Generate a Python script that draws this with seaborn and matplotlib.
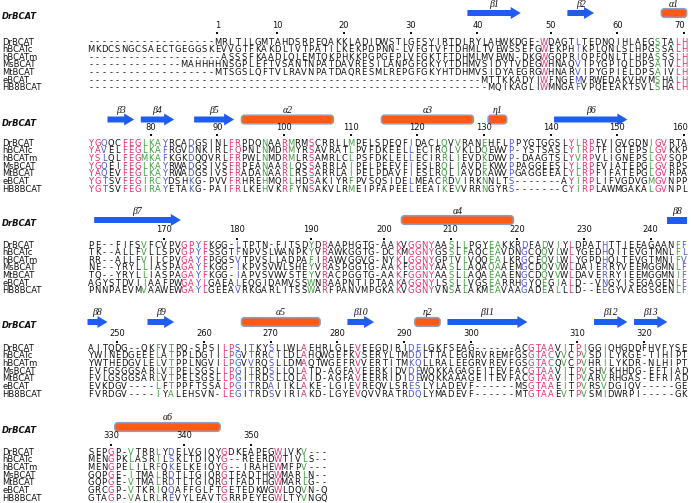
import matplotlib
matplotlib.use("Agg")
import matplotlib.pyplot as plt
from matplotlib.patches import FancyArrow, FancyBboxPatch, Rectangle
import seaborn as sns
import pandas as pd

sns.set_theme(style="white")
plt.rcParams['font.family'] = ['DejaVu Sans']

# Имена последовательностей
names = ["DrBCAT", "hBCATc", "hBCATm", "MsBCAT", "MtBCAT", "eBCAT", "HB8BCAT"]

# Выравнивание, блок за блоком
block1 = [
    "-------------------MRLTILGMTAHDSRPEQAKKLADIDWSTLGFSYIRTDLRYLAHWKDGE-WDAGTLTEDNQIHLAEGSTALH",
    "MKDCSNGCSAECTGEGGSKEVVGTFKAKDLIVTPATILKEKPDPNN-LVFGTVFTDHMLTVEWSSEFGWEKPHIKPLQNLSLHPGSSALH",
    "--------------------ASSSFKAADLQLEMTQKPHKKPGPGEPLVFGKTFTDHMLMVEWN-DKGWGQPRIQPFQNLTLHPASSSLH",
    "--------------MAHHHHNSGPLEFTVSANTNPATDAVRESILANPGFGKYYTDHMVSIDYTVDEGWHNAQVIPYGPIQLDPSAIVLH",
    "-------------------MTSGSLQFTVLRAVNPATDAQRESMLREPGFGKYHTDHMVSIDYAEGRGWHNARVIPYGPIELDPSAIVLH",
    "-----------------------------------------------------------MTTKKADYIWFNGEMVRWEDAKVHVMSHALH",
    "------------------------------------------------------------MQIKAGLIWMNGAFVPQEEAKTSVLSHALH",
]
block2 = [
    "YGQQCFEGLKAYRCADGSINLFRPDQNAARMRMSCRRLLMPELSDEQFIDACLQVVRANEHFLPPYGTGGSLYLRPFVIGVGDNIGVRTA",
    "YAVELFEGLKAFRGVDNKIRLFQPNLNMDRMYRSAVRATLPVFDKEELLECIRQLVKLDQEWVP-YSTSASLYIRPTFIGTEPSLGVKKP",
    "YSLQLFEGMKAFKGKDQQVRLFRPWLNMDRMLRSAMRLCLPSFDKLELLECIRRLIEVDKDWVP-DAAGTSLYVRPVLIGNEPSLGVSQP",
    "YGQEIFEGLKAYRWADGSIVSFRPEANAARLQSSARRLAIPELPEEVFIESLRQLIAVDEKWVPPAGGEESLYLRPFVIATEPGLGVRPS",
    "YAQEVFEGLKAYRWADGSIVSFRADANAARLRSSARRLAIPELPDAVFIESLRQLIAVDKAWVPGAGGEEALYLRPFIFATEPGLGVRPA",
    "YGTSVFEGIRCYDSHKG-PVVFRHREHMQRLHDSAKIYRFPVSQSIDELMEACRDVIRKNNLTS-------AYIRPLIFVGDVGMGVNPP",
    "YGTSVFEGIRAYETAKG-PAIFRLKEHVKRFYNSAKVLRMEIPFAPEELEEAIKEVVRRNGYRS-------CYIRPLAWMGAKALGVNPL",
]
block3 = [
    "PE--FIFSVFCVPVGPYFKGG-LTPTN-FITSDYDRAAPHGTG-AAKVGGNYAASLLPGYEAKKRDFADVIYLDPATHTTIEEAGAANFF",
    "TK--ALLFVLLSPVGPYFSSGTFNPVSLWANPKYVRAWKGGTG-DCKMGGNYGSSLFAQCEAVDNGCQQVLWLYGEDHQITEVGTMNLFL",
    "RR--ALLFVILCPVGAYFPGGSVTPVSLLADPAFIRAWVGGVG-NYKLGGNYGPTVLVQQEALKRGCEQVLWLYGPDHQLTEVGTMNIFV",
    "NE--YRYLLIASPAGAYFKGG-IKPVSVWLSHEYVRASPGGTG-AAKFGGNYAASLLAQAQAAEMGCDQVVWLDAIERRYVEEMGGMNLF",
    "TQ--YRYLLIASPAGAYFKGG-IAPVSVWVSTEYVRACPGGTG-AAKFGGNYAASLLAQAEAAENGCDQVVWLDAVERRYIEEMGGMNIF",
    "AGYSTDVIIAAFPWGAYLGAEALEQGIDAMVSSWNRAAPNTIPTAAKAGGNYLSSLLVGSEARRHGYQEGIALD--VNGYISEGAGENLF",
    "PNNPAEVMVAAWEWGAYLGEEAVRKGARLITSSWARFPANVMPGKAKVGGNYVNSALAKMEAVAAGADEALLLD--EEGYVAEGSGENLF",
]
block4 = [
    "AITQDG--QKFVTPQ-SPSILPSITKYSLLWLAEHRLGLEVEEGDIRIDELGKFSEAG------ACGTAAVITPIGGIQHGDDFHVFYSE",
    "YWINEDGEEELATPPLDGIILPGVTRRCILDLAHQWGEFKVSERYLTMDDLTTALEGNRVREMFGSGTACVVCPVSDILYKGE-TIHIPT",
    "YWTHEDGVLELVTPPLNGVILPGVVRQSLLDMAQTWGEFRVVERTITMKQLLRALEEGRVREVFGSGTACQVCPVHRILYKDR-NLHIPT",
    "FVFGSGGSARLVTPELSGSLLPGITRDSLLQLATD-AGFAVEERKIDVDEWQKKAGAGEITEVFACGTAAVITPVSHVKHHDG-EFTIAD",
    "FVLGSGGSARLVTPELSGSLLPGITRDSLLQLAID-AGFAVEERRIDIDEWQKKAAAGEITEVFACGTAAVITPVARVRHGAS-EFRIAD",
    "EVKDGV----LFTPPFTSSALPGITRDAIIKLAKE-LGIEVREQVLSRESLYLADEVF------MSGTAAEITPVRSVDGIQV-----GE",
    "FVRDGV----IYALEHSVN-LEGITRDSVIRIAKD-LGYEVQVVRATRDQLYMADEVF------MTGTAAEVTPVSMIDWRPI-----GK",
]
block5 = [
    "SEPGP-VTRRLYDELVGIQYGDKEAPEGWIVKV---",
    "MENGPKLASRILSKLTDIQYG--REERDWTIVLS--",
    "MENGPELILRFQKELKEIQYG--IRAHEWMFPV---",
    "GQPGE-ITMALRDTLTGIQRGTFADTHGWMARLN--",
    "GQPGE-VTMALRDTLTGIQRGTFADTHGWMARLG--",
    "GRCGP-VTKRIQQAFFGLFTGETEDKWGWLDQVN-Q",
    "GTAGP-VALRLREVYLEAVTGRRPEYEGWLTYVNGQ",
]
blocks = [block1, block2, block3, block4, block5]

# Окраска консервативных колонок (номера колонок с 1)
red_cols = [
    [69, 89, 90],
    [1, 2, 6, 7, 8, 22, 23, 30, 34, 73, 75, 76, 86, 87],
    [15, 16, 18, 36, 47, 49, 50, 51, 52, 73],
    [21, 22, 33, 41, 67, 68, 69, 70, 74],
    [4, 21, 29],
]
green_cols = [
    [86],
    [9, 10, 11, 27, 31, 40, 54, 56, 60, 74, 85],
    [9, 34, 55, 57, 61, 62, 69, 71, 89],
    [11, 13, 72, 75, 78],
    [7, 11, 33],
]
blue_cols = [
    [74],
    [3, 12, 16, 49, 64],
    [17, 23, 66, 78, 90],
    [23, 25, 28, 49, 50],
    [13],
]

# Вторичная структура DrBCAT: (метка, тип, первая колонка, последняя колонка)
ss_elements = [
    [("β1", "E", 58, 65), ("β2", "E", 73, 76), ("α1", "H", 87, 90)],
    [("β3", "E", 4, 7), ("β4", "E", 9, 13), ("β5", "E", 17, 22), ("α2", "H", 24, 37),
     ("α3", "H", 45, 58), ("η1", "H", 61, 63), ("β6", "E", 71, 81)],
    [("β7", "E", 2, 14), ("α4", "H", 48, 64), ("β8", "e", 88, 90)],
    [("β8", "E", 1, 3), ("β9", "E", 10, 13), ("α5", "H", 24, 35), ("β10", "E", 40, 43),
     ("η2", "H", 50, 53), ("β11", "E", 55, 66), ("β12", "E", 77, 81), ("β13", "E", 83, 87)],
    [("α6", "H", 5, 20)],
]

# Раскладка (пиксели сверху)
CW = 6.665
X0 = 87.5
row0 = [42, 143.3, 245, 348.3, 452.3]
ss_y = [13, 119.5, 220, 322, 427]
ss_lab_y = [4.5, 110.5, 211.5, 312.5, 417.5]
num_y = [25, 127, 230, 333, 436]
dot_y = [33, 135, 238.5, 341.5, 445]
row_step = 7.65

colors = {"r": "#e0306e", "g": "#3c9e3c", "b": "#4a55d8", ".": "#111111"}
arrow_c = "#1f5cf0"
helix_c = "#ff5a14"
helix_edge = "#8c9dc2"

fig = plt.figure(figsize=(6.91, 5.03), dpi=100)
ax = fig.add_axes([0, 0, 1, 1])
ax.set_xlim(-X0 / CW, (691 - X0) / CW)
ax.set_ylim(503, 0)
ax.axis("off")

fs = 6.0
resnum = 0
for b, block in enumerate(blocks):
    ncol = len(block[0])
    for s in block:
        assert len(s) == ncol, (b, s, len(s))
    cmap = ["."] * (ncol + 1)
    for c in red_cols[b]:
        cmap[c] = "r"
    for c in green_cols[b]:
        cmap[c] = "g"
    for c in blue_cols[b]:
        cmap[c] = "b"

    # последовательности
    for r, s in enumerate(block):
        y = row0[b] + r * row_step
        ax.text(-12.8, y, names[r], fontsize=fs, va="center", ha="left", color="#111111")
        for i, ch in enumerate(s):
            col = cmap[i + 1] if ch != "-" else "."
            ax.text(i + 0.5, y, ch, fontsize=fs, va="center", ha="center", color=colors[col])

    # нумерация по DrBCAT
    tick_cols = []
    tick_labels = []
    for i, ch in enumerate(block[0]):
        if ch == "-":
            continue
        resnum += 1
        if resnum == 1 or resnum % 10 == 0:
            tick_cols.append(i + 0.5)
            tick_labels.append(str(resnum))
    for x, lab in zip(tick_cols, tick_labels):
        ax.text(min(x, 88.9), num_y[b], lab, fontsize=fs, ha="center", va="center", color="#111111")
    dots = pd.DataFrame({"x": tick_cols, "y": [dot_y[b]] * len(tick_cols)})
    sns.scatterplot(data=dots, x="x", y="y", marker="s", s=2.5, color="#111111",
                    linewidth=0, ax=ax, legend=False)

    # вторичная структура
    ax.text(-12.8, ss_y[b] + 3.5, "DrBCAT", fontsize=fs, style="italic", fontweight="bold",
            va="center", ha="left", color="#111111")
    for lab, kind, c0, c1 in ss_elements[b]:
        x0, x1 = c0 - 1, c1
        if kind == "E":
            ax.add_patch(FancyArrow(x0, ss_y[b], x1 - x0, 0, width=6, head_width=12,
                                    head_length=1.5, length_includes_head=True,
                                    color=arrow_c, lw=0))
        elif kind == "e":
            ax.add_patch(Rectangle((x0, ss_y[b] - 3.5), x1 - x0, 7, color=arrow_c, lw=0))
        else:
            ax.add_patch(FancyBboxPatch((x0 + 0.1, ss_y[b] - 4.3), x1 - x0 - 0.2, 8.6,
                                        boxstyle="round,pad=0,rounding_size=0.45",
                                        mutation_aspect=CW, facecolor=helix_c,
                                        edgecolor=helix_edge, lw=1.1))
        ax.text((x0 + x1) / 2, ss_lab_y[b], lab, fontsize=7, style="italic",
                family=["Liberation Serif", "DejaVu Serif"], ha="center", va="center",
                color="#111111")

fig.savefig("out.png", dpi=100)
